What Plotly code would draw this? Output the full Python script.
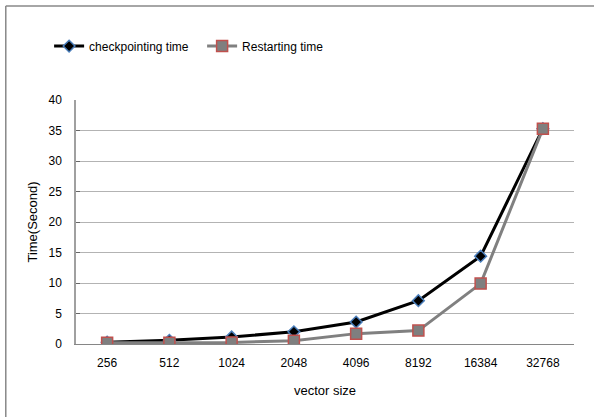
import plotly.graph_objects as go

# Vector sizes and measured times (seconds)
vector_sizes = ["256", "512", "1024", "2048", "4096", "8192", "16384", "32768"]
checkpointing_time = [0.3, 0.6, 1.15, 2.0, 3.6, 7.1, 14.4, 35.3]
restarting_time = [0.2, 0.2, 0.25, 0.55, 1.7, 2.2, 9.9, 35.3]
y_ticks = [0, 5, 10, 15, 20, 25, 30, 35, 40]

font_family = "Liberation Sans Narrow, Liberation Sans, Arial, sans-serif"

fig = go.Figure()
fig.add_trace(go.Scatter(
    x=vector_sizes, y=checkpointing_time, name="checkpointing time",
    mode="lines+markers",
    line=dict(color="#000000", width=3),
    marker=dict(symbol="diamond", size=9, color="#000000",
                line=dict(color="#4a7ebb", width=1.5)),
))
fig.add_trace(go.Scatter(
    x=vector_sizes, y=restarting_time, name="Restarting time",
    mode="lines+markers",
    line=dict(color="#808080", width=3),
    marker=dict(symbol="square", size=11, color="#7f7f7f",
                line=dict(color="#c0504d", width=1.5)),
))

# chart-area frame: only its top and left edges fall inside the page
frame = dict(color="#888888", width=1.5)

fig.update_layout(
    width=594, height=417,
    margin=dict(l=76, r=20, t=100, b=73),
    paper_bgcolor="white", plot_bgcolor="white",
    font=dict(family=font_family, size=12, color="#000000"),
    showlegend=True,
    legend=dict(orientation="h", x=-0.054, xanchor="left", y=1.221, yanchor="middle",
                font=dict(size=12), itemwidth=30, tracegroupgap=0,
                entrywidth=108, entrywidthmode="pixels",
                bgcolor="rgba(0,0,0,0)"),
    xaxis=dict(
        type="category", categoryorder="array", categoryarray=vector_sizes,
        range=[-0.5, len(vector_sizes) - 0.5],
        showgrid=False, showline=True, linecolor="#868686", linewidth=1,
        ticks="", ticklabelstandoff=8, zeroline=False,
        title=dict(text="vector size", font=dict(size=13), standoff=16),
    ),
    yaxis=dict(
        range=[0, 40], tickvals=y_ticks,
        showgrid=True, gridcolor="#b3b3b3", gridwidth=1,
        showline=True, linecolor="#a0a0a0", linewidth=1.5,
        ticks="inside", ticklen=4, tickcolor="#666666", tickwidth=1,
        ticklabelstandoff=10, zeroline=False,
        title=dict(text="Time(Second)", font=dict(size=13), standoff=8),
    ),
    shapes=[
        dict(type="line", xref="paper", yref="paper",
             x0=-0.141, x1=-0.141, y0=-0.5, y1=1.385, line=frame),
        dict(type="line", xref="paper", yref="paper",
             x0=-0.141, x1=1.1, y0=1.385, y1=1.385, line=frame),
    ],
)

fig.write_html("out.html")
